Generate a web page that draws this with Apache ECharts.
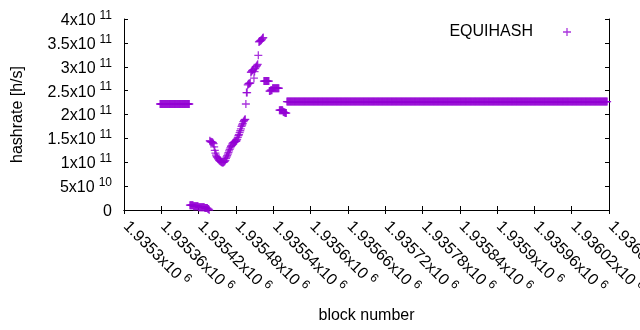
<!DOCTYPE html>
<html>
<head>
<meta charset="utf-8">
<script src="https://cdn.jsdelivr.net/npm/echarts@6/dist/echarts.min.js"></script>
<style>
  html, body { margin: 0; padding: 0; background: #fff; }
  #chart { width: 640px; height: 330px; }
</style>
</head>
<body>
<div id="chart"></div>
<script>
// one point per block, hashrate in units of 1e9 h/s
var firstBlock = 1935358;

var plateauA = [
  222,222,222,222,222,222,222,222,222,222,222,222,222,222,222,222,222,222,222,222,
  222,222,222,222,222,222,222,222,222,222,222,222,222,222,222,222,222,222,222,222,
  222,222,222,222,222,222,222,222
];

var dropRun = [
  10,10,10,10,10,10,
  8,8,8,8,8,8,8,8,
  6,6,6,6,6,6,6,6,6,6,
  4,4,4,4,4,
  2,2,
  0
];

var swingRun = [
  145,143,143,142,142,141,139,132,125,119,
  115,112,110,108,106,104,103,102,101,100,
  100,99,100,101,102,104,108,111,114,117,
  120,124,127,130,133,135,138,140,141,142,
  142,143,144,145,148,152,156,158,162,166,
  170,175,178,181,185,187,189,190,222,246,
  246,262,264,265,265,266,288,290,292,293,
  294,276,290,296,299,301,303,305,324,352,
  353,354,355,356,358,360,361,270,270,270,
  270,270,270,270,270,270,249,249,251,251,
  251,255,255,255,255,255,255,255,255,255,
  255,255,209,209,209,209,209,209,206,205,
  204,204,203,203
];

var plateauB = [
  227,227,227,227,227,227,227,227,227,227,227,227,227,227,227,227,227,227,227,227,
  227,227,227,227,227,227,227,227,227,227,227,227,227,227,227,227,227,227,227,227,
  227,227,227,227,227,227,227,227,227,227,227,227,227,227,227,227,227,227,227,227,
  227,227,227,227,227,227,227,227,227,227,227,227,227,227,227,227,227,227,227,227,
  227,227,227,227,227,227,227,227,227,227,227,227,227,227,227,227,227,227,227,227,
  227,227,227,227,227,227,227,227,227,227,227,227,227,227,227,227,227,227,227,227,
  227,227,227,227,227,227,227,227,227,227,227,227,227,227,227,227,227,227,227,227,
  227,227,227,227,227,227,227,227,227,227,227,227,227,227,227,227,227,227,227,227,
  227,227,227,227,227,227,227,227,227,227,227,227,227,227,227,227,227,227,227,227,
  227,227,227,227,227,227,227,227,227,227,227,227,227,227,227,227,227,227,227,227,
  227,227,227,227,227,227,227,227,227,227,227,227,227,227,227,227,227,227,227,227,
  227,227,227,227,227,227,227,227,227,227,227,227,227,227,227,227,227,227,227,227,
  227,227,227,227,227,227,227,227,227,227,227,227,227,227,227,227,227,227,227,227,
  227,227,227,227,227,227,227,227,227,227,227,227,227,227,227,227,227,227,227,227,
  227,227,227,227,227,227,227,227,227,227,227,227,227,227,227,227,227,227,227,227,
  227,227,227,227,227,227,227,227,227,227,227,227,227,227,227,227,227,227,227,227,
  227,227,227,227,227,227,227,227,227,227,227,227,227,227,227,227,227,227,227,227,
  227,227,227,227,227,227,227,227,227,227,227,227,227,227,227,227,227,227,227,227,
  227,227,227,227,227,227,227,227,227,227,227,227,227,227,227,227,227,227,227,227,
  227,227,227,227,227,227,227,227,227,227,227,227,227,227,227,227,227,227,227,227,
  227,227,227,227,227,227,227,227,227,227,227,227,227,227,227,227,227,227,227,227,
  227,227,227,227,227,227,227,227,227,227,227,227,227,227,227,227,227,227,227,227,
  227,227,227,227,227,227,227,227,227,227,227,227,227,227,227,227,227,227,227,227,
  227,227,227,227,227,227,227,227,227,227,227,227,227,227,227,227,227,227,227,227,
  227,227,227,227,227,227,227,227,227,227,227,227,227,227,227,227,227,227,227,227,
  227,227,227,227,227,227,227,227,227,227,227,227,227,227,227,227
];

// tick labels: mantissa x10^exponent
var xTickMantissa = ["1.9353", "1.93536", "1.93542", "1.93548", "1.93554", "1.9356", "1.93566",
  "1.93572", "1.93578", "1.93584", "1.9359", "1.93596", "1.93602", "1.93608"];
var yTickLabels = [["0", ""], ["5", "10"], ["1", "11"], ["1.5", "11"], ["2", "11"],
  ["2.5", "11"], ["3", "11"], ["3.5", "11"], ["4", "11"]];

var hashrate = plateauA.concat(dropRun, swingRun, plateauB);
var points = hashrate.map(function (v, i) {
  return [firstBlock + i, v * 1e9];
});

var plusPath = "path://M0,4.2H10V5.8H0ZM4.2,0H5.8V10H4.2Z";
var font = "Liberation Sans";

var chart = echarts.init(document.getElementById("chart"));

var richStyle = {
  b: { fontSize: 16, fontFamily: font, color: "#000", lineHeight: 19, verticalAlign: "bottom" },
  s: { fontSize: 12, fontFamily: font, color: "#000", lineHeight: 12, verticalAlign: "top", padding: [0, 0, 0, 4] }
};

var xCommon = {
  type: "value",
  min: 1935300,
  max: 1936080,
  interval: 60,
  splitLine: { show: false },
  axisLine: { show: true, lineStyle: { color: "#000", width: 1 } },
  axisTick: { show: true, inside: true, length: 4, lineStyle: { color: "#000" } }
};
var yCommon = {
  type: "value",
  min: 0,
  max: 4e11,
  interval: 5e10,
  splitLine: { show: false },
  axisLine: { show: true, lineStyle: { color: "#000", width: 1 } },
  axisTick: { show: true, inside: true, length: 4, lineStyle: { color: "#000" } }
};

var option = {
  animation: false,
  backgroundColor: "#fff",
  grid: { left: 124, top: 19, width: 485, height: 191, containLabel: false, outerBoundsMode: "none" },
  legend: {
    data: ["EQUIHASH"],
    right: 69,
    top: 24,
    align: "right",
    padding: 0,
    itemGap: 5,
    itemWidth: 58,
    itemHeight: 8,
    icon: plusPath,
    textStyle: { fontSize: 16, fontFamily: font, color: "#000" }
  },
  xAxis: [
    Object.assign({}, xCommon, {
      position: "bottom",
      name: "block number",
      nameLocation: "middle",
      nameGap: 98,
      nameTextStyle: { fontSize: 16, fontFamily: font, color: "#000" },
      axisLabel: {
        rotate: -45,
        margin: 10,
        padding: [0, 0, 0, 4],
        rich: richStyle,
        formatter: function (v, i) {
          return "{b|" + xTickMantissa[i] + "x10}{s|6}";
        }
      }
    }),
    Object.assign({}, xCommon, { position: "top", axisLabel: { show: false } })
  ],
  yAxis: [
    Object.assign({}, yCommon, {
      position: "left",
      name: "hashrate [h/s]",
      nameLocation: "middle",
      nameGap: 98,
      nameTextStyle: { fontSize: 16, fontFamily: font, color: "#000" },
      axisLabel: {
        margin: 12,
        rich: richStyle,
        formatter: function (v, i) {
          var t = yTickLabels[i];
          if (t[1] === "") return "{b|" + t[0] + "}";
          return "{b|" + t[0] + "x10}{s|" + t[1] + "}";
        }
      }
    }),
    Object.assign({}, yCommon, { position: "right", axisLabel: { show: false } })
  ],
  series: [
    {
      name: "EQUIHASH",
      type: "scatter",
      xAxisIndex: 0,
      yAxisIndex: 0,
      symbol: plusPath,
      symbolSize: 8,
      itemStyle: { color: "#9400d3" },
      emphasis: { disabled: true },
      data: points
    }
  ]
};

chart.setOption(option);
</script>
</body>
</html>
